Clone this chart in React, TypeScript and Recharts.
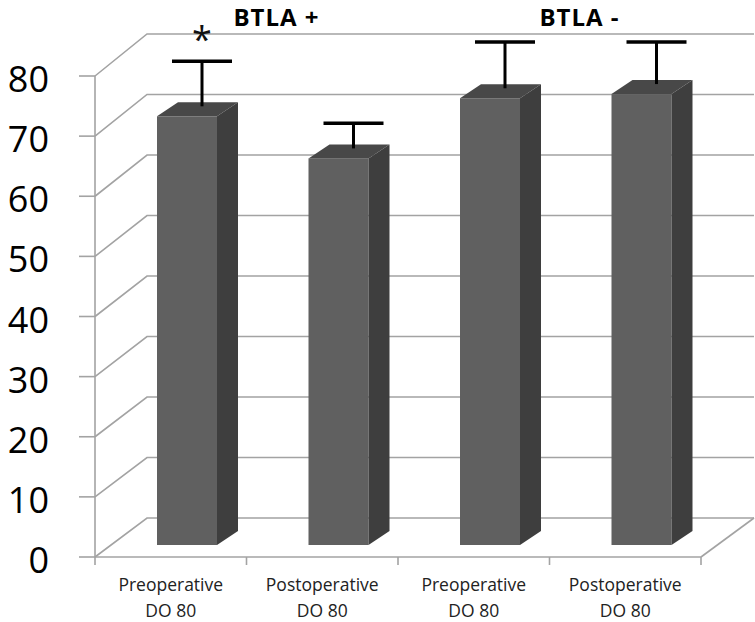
import React from 'react';
import { ComposedChart, Bar, XAxis, YAxis, CartesianGrid } from 'recharts';

const categories = ['Preoperative\nDO 80', 'Postoperative\nDO 80', 'Preoperative\nDO 80', 'Postoperative\nDO 80'];
const values = [71.3, 64.3, 74.3, 75.0];
const errors = [7.5, 4.2, 7.7, 7.0];
const significance = ['*', '', '', ''];
const groupLabels = ['BTLA +', 'BTLA -'];
const groupTicks = [1, 3];
const yTicks = [0, 10, 20, 30, 40, 50, 60, 70, 80];
const xTicks = [0, 0.5, 1, 1.5, 2, 2.5, 3, 3.5, 4];

const data = categories.map((c, i) => ({
  x: i + 0.5,
  value: values[i],
  err: errors[i],
  sig: significance[i],
}));

const GRID = '#a3a3a3';
const FONT = '"Open Sans", sans-serif';

const Bar3D = (props: any) => {
  const { x, y, width, height, payload } = props;
  if (x == null || height == null) return null;
  const fx = x + 16;
  const fy = y - 12;
  const bottom = fy + height;
  const dx = 21;
  const dy = -14;
  const ppu = height / payload.value;
  const cx = fx + width / 2 + 15;
  const base = fy - 10;
  const top = base - payload.err * ppu;
  return (
    <g>
      <rect x={fx} y={fy} width={width} height={height} fill="#606060" />
      <polygon
        points={`${fx},${fy} ${fx + dx},${fy + dy} ${fx + width + dx},${fy + dy} ${fx + width},${fy}`}
        fill="#484848"
      />
      <polygon
        points={`${fx + width},${fy} ${fx + width + dx},${fy + dy} ${fx + width + dx},${bottom + dy} ${fx + width},${bottom}`}
        fill="#3e3e3e"
      />
      <line x1={cx} y1={base} x2={cx} y2={top} stroke="#000" strokeWidth={3} />
      <line x1={cx - 30} y1={top} x2={cx + 30} y2={top} stroke="#000" strokeWidth={3.5} />
      {payload.sig ? (
        <text x={cx} y={top - 9} textAnchor="middle" fontSize={36} fontFamily={FONT} fill="#111">
          {payload.sig}
        </text>
      ) : null}
    </g>
  );
};

const gridLine = (p: any) => {
  const { x1, x2, y1, index } = p;
  const plotBottom = (p.y ?? 0) + (p.height ?? 0);
  const rel = p.height ? (plotBottom - y1) / p.height : 0;
  const dy = -39 - rel * 3;
  const isFloor = p.height ? Math.abs(y1 - plotBottom) < 1 : false;
  return (
    <g key={`g-${index}`}>
      <path
        d={`M${x1},${y1} L${x1 + 52},${y1 + dy} L${x2 + 53},${y1 + dy}`}
        stroke={GRID}
        strokeWidth={1.6}
        fill="none"
      />
      {isFloor ? (
        <path d={`M${x2},${y1} L${x2 + 53},${y1 + dy}`} stroke={GRID} strokeWidth={1.6} fill="none" />
      ) : null}
    </g>
  );
};

const YTick = (props: any) => {
  const { x, y, payload } = props;
  return (
    <text x={x} y={y + 16} textAnchor="end" fontSize={36} fontFamily={FONT} fill="#000">
      {payload.value}
    </text>
  );
};

const XTick = (props: any) => {
  const { x, y, payload } = props;
  const v = payload.value;
  if (Number.isInteger(v)) {
    return <line x1={x} y1={y} x2={x} y2={y + 8} stroke={GRID} strokeWidth={1.6} />;
  }
  const lines = categories[Math.floor(v)].split('\n');
  return (
    <g>
      <text x={x} y={y + 34} textAnchor="middle" fontSize={17.5} fontFamily={FONT} fill="#222">
        {lines[0]}
      </text>
      <text x={x} y={y + 60} textAnchor="middle" fontSize={17.5} fontFamily={FONT} fill="#222">
        {lines[1]}
      </text>
    </g>
  );
};

const TopTick = (props: any) => {
  const { x, index } = props;
  return (
    <text
      x={x + 30}
      y={26}
      textAnchor="middle"
      fontSize={24}
      fontWeight="bold"
      letterSpacing={1}
      fontFamily={FONT}
      fill="#000"
    >
      {groupLabels[index]}
    </text>
  );
};

export default function App() {
  return (
    <div style={{ position: 'absolute', left: 0, top: 0, width: 755, height: 622, background: '#fff' }}>
      <ComposedChart
        width={755}
        height={622}
        data={data}
        margin={{ top: 46, right: 54, bottom: 25, left: 0 }}
        style={{ fontFamily: FONT }}
      >
        <CartesianGrid vertical={false} horizontal={gridLine} />
        <XAxis
          dataKey="x"
          type="number"
          domain={[0, 4]}
          ticks={xTicks}
          interval={0}
          height={40}
          axisLine={{ stroke: GRID, strokeWidth: 1.6 }}
          tickLine={false}
          tickSize={0}
          tickMargin={0}
          tick={<XTick />}
        />
        <XAxis
          xAxisId="top"
          dataKey="x"
          orientation="top"
          type="number"
          domain={[0, 4]}
          ticks={groupTicks}
          interval={0}
          height={30}
          axisLine={false}
          tickLine={false}
          tick={<TopTick />}
          allowDataOverflow
        />
        <YAxis
          domain={[0, 80]}
          ticks={yTicks}
          interval={0}
          width={95}
          axisLine={{ stroke: GRID, strokeWidth: 1.6 }}
          tickLine={{ stroke: GRID, strokeWidth: 1.6 }}
          tickSize={16}
          tickMargin={30}
          tick={<YTick />}
        />
        <Bar dataKey="value" barSize={60} shape={<Bar3D />} isAnimationActive={false} />
      </ComposedChart>
    </div>
  );
}
